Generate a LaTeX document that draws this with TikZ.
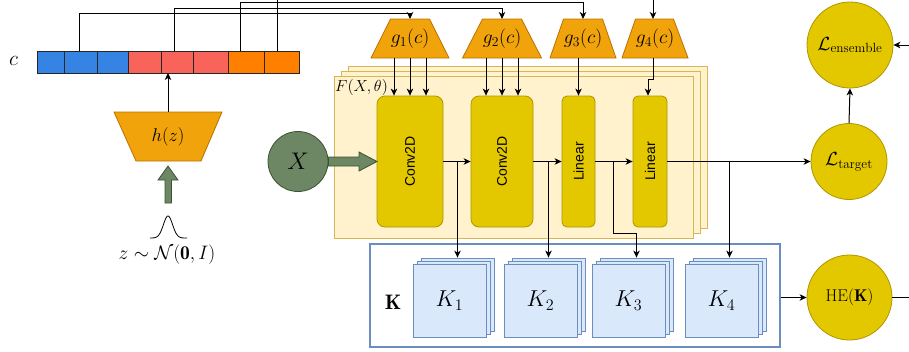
\documentclass[tikz,border=0pt]{standalone}
\usepackage{fix-cm}
\usepackage{fontspec}
\setsansfont{Liberation Sans}
\usetikzlibrary{arrows.meta}
\definecolor{cblue}{HTML}{3584E4}
\definecolor{cred}{HTML}{F8645A}
\definecolor{corange}{HTML}{FF8000}
\definecolor{trapfill}{HTML}{F0A30A}
\definecolor{trapdraw}{HTML}{BD7000}
\definecolor{blkfill}{HTML}{E3C800}
\definecolor{blkdraw}{HTML}{B09500}
\definecolor{ffill}{HTML}{FFF2CC}
\definecolor{fdraw}{HTML}{D6B656}
\definecolor{kfill}{HTML}{DAE8FC}
\definecolor{kdraw}{HTML}{6C8EBF}
\definecolor{gfill}{HTML}{6D8764}
\definecolor{gdraw}{HTML}{3A5431}
\tikzset{
  wire/.style={draw=black, line width=1pt},
  arr/.style={wire, -{Stealth[length=7pt,width=6.5pt,inset=2pt]}},
  cell/.style={draw=black!85, line width=0.8pt, minimum height=22pt, inner sep=0pt, outer sep=0pt},
  trapz/.style={fill=trapfill, draw=trapdraw, line width=0.8pt},
  traptext/.style={inner sep=0pt, outer sep=0pt, minimum height=39pt, font=\fontsize{19.5}{21}\selectfont},
  blk/.style={fill=blkfill, draw=blkdraw, line width=0.8pt, rounded corners=8pt, inner sep=0pt, minimum height=131pt},
  blktext/.style={font=\sffamily\fontsize{14}{16}\selectfont, rotate=90},
  fstack/.style={fill=ffill, draw=fdraw, line width=0.8pt, minimum width=359pt, minimum height=162pt, inner sep=0pt},
  kcard/.style={fill=kfill, draw=kdraw, line width=0.8pt, minimum width=73pt, minimum height=73pt, inner sep=0pt},
  lcirc/.style={circle, fill=blkfill, draw=blkdraw, line width=0.8pt, inner sep=0pt},
  garrow/.style={fill=gfill, draw=gdraw, line width=0.8pt},
}
\begin{document}
\begin{tikzpicture}[x=1pt, y=-1pt]
\useasboundingbox (0,0) rectangle (909,351);

% ---- vector c
\node[font=\fontsize{21}{23}\selectfont] (clabel) at (13.5,61) {$c$};
\node[cell, fill=cblue, minimum width=27pt] (c1) at (50.5,62) {};
\node[cell, fill=cblue, minimum width=33pt] (c2) at (80.5,62) {};
\node[cell, fill=cblue, minimum width=31pt] (c3) at (112.5,62) {};
\node[cell, fill=cred, minimum width=33pt] (c4) at (144.5,62) {};
\node[cell, fill=cred, minimum width=32pt] (c5) at (177,62) {};
\node[cell, fill=cred, minimum width=35pt] (c6) at (210.5,62) {};
\node[cell, fill=corange, minimum width=36pt] (c7) at (246,62) {};
\node[cell, fill=corange, minimum width=35pt] (c8) at (281.5,62) {};

% ---- h(z)
\path[trapz] (114,112) -- (222,112) -- (201,161) -- (136,161) -- cycle;
\node[traptext, minimum height=49pt, minimum width=108pt, font=\fontsize{18.5}{20}\selectfont] (h) at (168,136.5) {$h(z)$};
\draw[arr] (h.north) -- (h.north |- c5.south);
\path[garrow] (165,203) -- (165,180) -- (158,180) -- (168,166) -- (178,180) -- (171.5,180) -- (171.5,203) -- cycle;
\draw[line width=0.8pt] plot[domain=150:187, samples=60, smooth] (\x, {238 - 22*exp(-((\x-168)/6.5)^2)});
\node[font=\fontsize{19.5}{21}\selectfont] (zlabel) at (167,255) {$z\sim\mathcal{N}(\mathbf{0},I)$};

% ---- F stacks
\node[fstack] (Fb) at (527.5,147) {};
\node[fstack] (Fm) at (520.5,152) {};
\node[fstack] (F) at (513.5,157) {};
\node[anchor=west, font=\fontsize{16}{18}\selectfont, inner sep=0pt] (Flabel) at (335,87) {$F(X,\theta)$};

% ---- blocks
\node[blk, minimum width=66pt] (conv1) at (410,161.5) {};
\node[blktext] (conv1t) at (conv1.center) {Conv2D};
\node[blk, minimum width=62pt] (conv2) at (502,161.5) {};
\node[blktext] (conv2t) at (conv2.center) {Conv2D};
\node[blk, minimum width=33pt, rounded corners=5pt] (lin1) at (578.5,161.5) {};
\node[blktext] (lin1t) at (lin1.center) {Linear};
\node[blk, minimum width=34pt, rounded corners=5pt] (lin2) at (650,161.5) {};
\node[blktext] (lin2t) at (lin2.center) {Linear};

% ---- X
\node[circle, fill=gfill, draw=gdraw, line width=0.8pt, minimum size=60pt, inner sep=0pt,
      font=\fontsize{24}{26}\selectfont] (X) at (298,161.5) {$X$};
\path[garrow] (X.east |- 0,157) -- (359,157) -- (359,152) -- (377,161.5) -- (359,171) -- (359,166) -- (X.east |- 0,166) -- cycle;

% ---- g trapezia
\path[trapz] (371,58) -- (390.5,19) -- (429.5,19) -- (449,58) -- cycle;
\node[traptext, minimum width=78pt] (g1) at (410,38.5) {$g_1(c)$};
\path[trapz] (462.5,58) -- (482.5,19) -- (521.5,19) -- (541.5,58) -- cycle;
\node[traptext, minimum width=79pt] (g2) at (502,38.5) {$g_2(c)$};
\path[trapz] (550,58) -- (563.5,19) -- (602.5,19) -- (616,58) -- cycle;
\node[traptext, minimum width=66pt] (g3) at (583,38.5) {$g_3(c)$};
\path[trapz] (622,58) -- (635.5,19) -- (673.5,19) -- (688,58) -- cycle;
\node[traptext, minimum width=66pt] (g4) at (655,38.5) {$g_4(c)$};

% ---- wires from c to g
\draw[arr] ([xshift=-1.5pt]c2.north) -- ++(0,-38) -| (g1.north);
\draw[arr] ([xshift=-3pt]c5.north) -- ++(0,-43) -| (g2.north);
\draw[arr] ([xshift=-6pt]c7.north) -- ++(0,-48.5) -| (g3.north);
\draw[arr] ([xshift=-4.5pt]c8.north) -- ++(0,-56) -| ([xshift=-2pt]g4.north);

% ---- g to blocks
\foreach \dx in {-16,0,16} {
  \draw[arr] ([xshift=\dx pt]g1.south) -- ([xshift=\dx pt]conv1.north);
  \draw[arr] ([xshift=\dx pt]g2.south) -- ([xshift=\dx pt]conv2.north);
}
\draw[arr] (lin1.north |- g3.south) -- (lin1.north);
\draw[arr] ([xshift=-2pt]g4.south) -- ++(0,21) -| ([xshift=-2pt]lin2.north);

% ---- K box
\node[draw=kdraw, fill=white, line width=1.5pt, minimum width=410pt, minimum height=103pt, inner sep=0pt] (Kbox) at (575,295.5) {};
\node[font=\fontsize{21}{23}\selectfont] (Klabel) at (393,302) {$\mathbf{K}$};
\foreach \n/\cx in {1/449.5, 2/540.5, 3/628.5, 4/721.5} {
  \node[kcard] (K\n b) at (\cx+8,294.5) {};
  \node[kcard] (K\n m) at (\cx+4,297.5) {};
  \node[kcard, font=\fontsize{23}{25}\selectfont] (K\n) at (\cx,300.5) {$K_{\n}$};
}

% ---- loss circles
\node[lcirc, minimum size=86pt, font=\fontsize{19}{21}\selectfont] (Lens) at (850,45) {$\mathcal{L}_{\mathrm{ensemble}}$};
\node[lcirc, minimum size=76pt, font=\fontsize{19}{21}\selectfont] (Ltar) at (849,161.5) {$\mathcal{L}_{\mathrm{target}}$};
\node[lcirc, minimum size=85pt, font=\fontsize{17}{19}\selectfont] (HE) at (849.5,297.5) {$\mathrm{HE}(\mathbf{K})$};

% ---- main chain
\draw[arr] (conv1.east) -- (conv2.west);
\draw[arr] (conv2.east) -- (lin1.west);
\draw[arr] (lin1.east) -- (lin2.west);
\draw[arr] (lin2.east) -- (Ltar.west);
\draw[arr] (conv1.east -| K1b.north) -- (K1b.north);
\draw[arr] (conv2.east -| K2b.north) -- (K2b.north);
\coordinate (b3) at (613,161.5);
\draw[arr] (b3) -- ++(0,71.5) -| (K3b.north);
\draw[arr] (lin2.east -| K4b.north) -- (K4b.north);

\draw[arr] (Ltar.north) -- (Lens.south);
\draw[arr] (Kbox.east |- HE.west) -- (HE.west);
\coordinate (re) at (925,0);
\draw[arr] (HE.east) -- (HE.east -| re) |- (Lens.east);
\end{tikzpicture}
\end{document}
